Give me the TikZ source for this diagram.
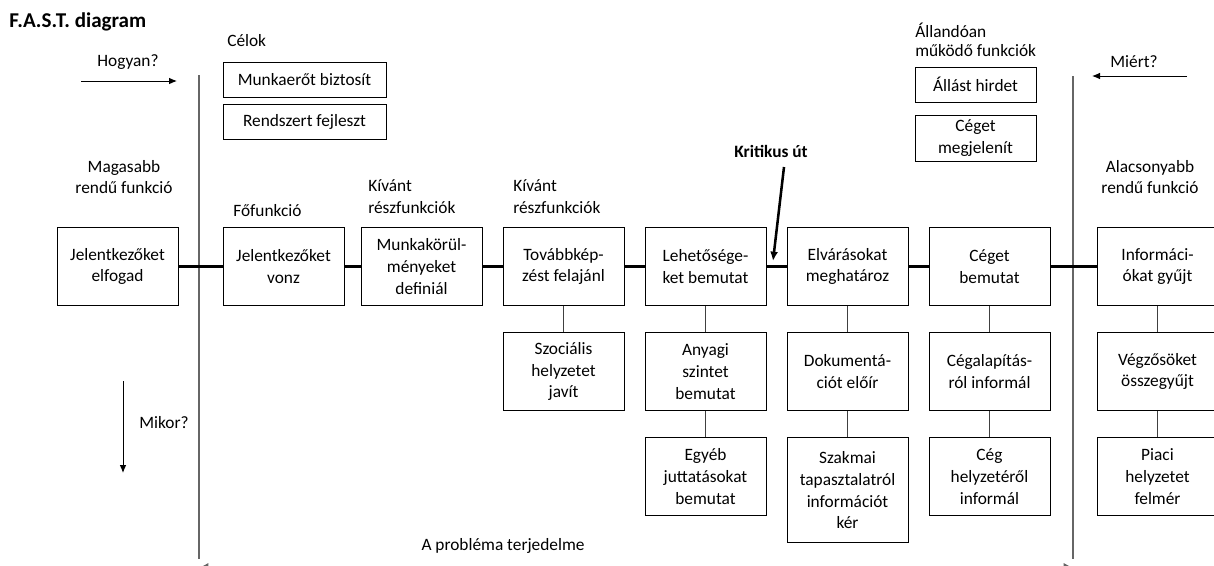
\documentclass[tikz,border=0pt]{standalone}
\usepackage{fontspec}
\setmainfont{Carlito}
\usepackage{tikz}
\usetikzlibrary{shapes, arrows, arrows.meta, positioning}
\newcommand{\boxfont}{\fontsize{13}{16.3}\selectfont}
\tikzstyle{func}     = [rectangle, draw, align=center, minimum width=90.75pt, minimum height=58.5pt, inner sep=1pt, line width=0.75pt, font=\boxfont]
\tikzstyle{goal}     = [rectangle, draw, align=center, minimum width=90.75pt, minimum height=26.25pt, inner sep=1pt, line width=0.75pt, font=\boxfont]
\tikzstyle{caption}  = [align=left, inner sep=0pt, font=\boxfont]
\tikzstyle{heading}  = [inner sep=0pt, font=\boxfont\bfseries]
\tikzstyle{critical} = [draw, line width=2.25pt]
\tikzstyle{branch}   = [draw, black!75, line width=0.75pt]
\tikzstyle{axis}     = [draw, black!60, line width=0.9pt]
\tikzstyle{single}   = [draw, line width=0.75pt, -{Latex[length=6pt, width=5pt]}]

\begin{document}
\begin{tikzpicture}[x=0.75pt, y=-0.75pt]
    \useasboundingbox (0,0) rectangle (1214,565);
    % headings and questions
    \node[heading, anchor=west, font=\fontsize{15.8}{18}\selectfont\bfseries](title) at (9,22){F.A.S.T. diagram};
    \node[caption](hogyan) at (128,62){Hogyan?};
    \node[caption](miert) at (1134,62){Miért?};
    \node[caption](mikor) at (164,423){Mikor?};
    \node[caption, anchor=west](celok) at (227,41){Célok};
    \node[caption, anchor=west, font=\fontsize{13}{14}\selectfont](allando) at (915,40){Állandóan\\működő funkciók};
    \node[caption, align=center](magasabb) at (124,177){Magasabb\\rendű funkció};
    \node[caption, align=center](alacsonyabb) at (1150,177){Alacsonyabb\\rendű funkció};
    \node[caption, anchor=west](fofunkcio) at (233,211){Főfunkció};
    \node[caption, anchor=west](kivant1) at (368,197){Kívánt\\részfunkciók};
    \node[caption, anchor=west](kivant2) at (513,197){Kívánt\\részfunkciók};
    \node[heading](kritikus) at (771,151){Kritikus út};
    \node[caption](terjedelem) at (503,546){A probléma terjedelme};

    % goals and permanent functions
    \node[goal, minimum width=122.25pt](celA) at (304.5,79.5){Munkaerőt biztosít};
    \node[goal, minimum width=122.25pt, below=4.5pt of celA](celB){Rendszert fejleszt};
    \node[goal](allandoA) at (975.5,84.5){Állást hirdet};
    \node[goal, minimum height=34.5pt, below=9pt of allandoA](allandoB){Céget\\megjelenít};

    % main row
    \node[func](vonz) at (283.5,266.5){Jelentkezőket\\vonz};
    \node[func, left=33pt of vonz](elfogad){Jelentkezőket\\elfogad};
    \node[func, right=12pt of vonz](munka){Munkakörül-\\ményeket\\definiál};
    \node[func, right=15pt of munka](tovabb){Továbbkép-\\zést felajánl};
    \node[func, right=15pt of tovabb](lehet){Lehetősége-\\ket bemutat};
    \node[func, right=15pt of lehet](elvar){Elvárásokat\\meghatároz};
    \node[func, right=15pt of elvar](ceget){Céget\\bemutat};
    \node[func, right=34.5pt of ceget](info){Informáci-\\ókat gyűjt};

    % branches
    \node[func, below=19.5pt of tovabb](szoc){Szociális\\helyzetet\\javít};
    \node[func, below=19.5pt of lehet](anyagi){Anyagi\\szintet\\bemutat};
    \node[func, below=19.5pt of anyagi](egyeb){Egyéb\\juttatásokat\\bemutat};
    \node[func, below=19.5pt of elvar](dok){Dokumentá-\\ciót előír};
    \node[func, minimum height=79pt, below=19.5pt of dok](szakmai){Szakmai\\tapasztalatról\\információt\\kér};
    \node[func, below=19.5pt of ceget](alapit){Cégalapítás-\\ról informál};
    \node[func, below=19.5pt of alapit](helyzet){Cég\\helyzetéről\\informál};
    \node[func, below=19.5pt of info](vegzos){Végzősöket\\összegyűjt};
    \node[func, below=19.5pt of vegzos](piaci){Piaci\\helyzetet\\felmér};

    % scope lines
    \coordinate (howtop) at (199,75);
    \coordinate (howbot) at (199,559);
    \coordinate (whytop) at (1073,76);
    \coordinate (whybot) at (1073,559);
    \coordinate (spanL) at (199,567.5);
    \coordinate (spanR) at (1073,567.5);
    \path[axis](howtop) -- (howbot);
    \path[axis](whytop) -- (whybot);
    \path[axis, {Latex[length=7pt, width=7pt]}-{Latex[length=7pt, width=7pt]}](spanL) -- (spanR);

    % direction arrows
    \coordinate (hogyanA) at (81,81);
    \coordinate (hogyanB) at (177,81);
    \coordinate (miertA) at (1187,76);
    \coordinate (miertB) at (1092,76);
    \coordinate (mikorA) at (123,381);
    \coordinate (mikorB) at (123,473);
    \path[single](hogyanA) -- (hogyanB);
    \path[single](miertA) -- (miertB);
    \path[single](mikorA) -- (mikorB);
    \coordinate (kritA) at (784,167);
    \coordinate (kritB) at (773,261);
    \path[draw, line width=1.9pt, -{Latex[length=7pt, width=6pt]}](kritA) -- (kritB);

    % critical path
    \path[critical](elfogad) -- (vonz);
    \path[critical](vonz) -- (munka);
    \path[critical](munka) -- (tovabb);
    \path[critical](tovabb) -- (lehet);
    \path[critical](lehet) -- (elvar);
    \path[critical](elvar) -- (ceget);
    \path[critical](ceget) -- (info);

    % branch lines
    \path[branch](tovabb) -- (szoc);
    \path[branch](lehet) -- (anyagi);
    \path[branch](anyagi) -- (egyeb);
    \path[branch](elvar) -- (dok);
    \path[branch](dok) -- (szakmai);
    \path[branch](ceget) -- (alapit);
    \path[branch](alapit) -- (helyzet);
    \path[branch](info) -- (vegzos);
    \path[branch](vegzos) -- (piaci);
\end{tikzpicture}
\end{document}
